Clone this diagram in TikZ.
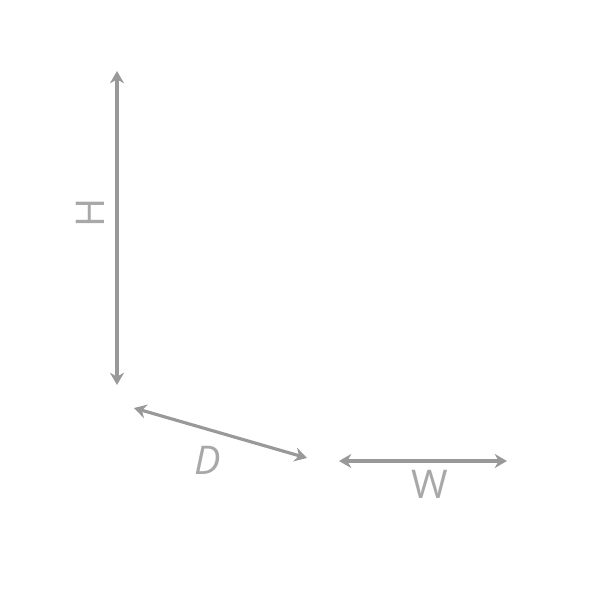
\documentclass[tikz,border=0pt]{standalone}
\usepackage{fontspec}
\setmainfont{Open Sans}
\usetikzlibrary{arrows.meta,calc}
\definecolor{dimgray}{HTML}{999999}
\tikzset{
	dimline/.style={draw=dimgray, line width=1.8pt, {Stealth[length=7pt,width=8pt]}-{Stealth[length=7pt,width=8pt]}},
	dimlabel/.style={text=dimgray!85, font=\fontsize{22.5}{27}\selectfont, inner sep=0pt}
}
\begin{document}
\begin{tikzpicture}[x=0.02cm,y=-0.02cm]
		\useasboundingbox (0,0) rectangle (600,600);
		\coordinate (Htop) at (117,71);
		\coordinate (Hbot) at (117,385);
		\coordinate (Dl) at (134,408);
		\coordinate (Dr) at (307,458);
		\coordinate (Wl) at (339,461);
		\coordinate (Wr) at (507,461);
		\node[dimlabel, rotate=90] (H) at (90,213) {H};
		\node[dimlabel, font=\fontsize{22.5}{27}\selectfont\itshape] (D) at (208,460) {D};
		\node[dimlabel] (W) at (430,484) {W};
		\draw[dimline] (Htop) -- (Hbot);
		\draw[dimline] (Dl) -- (Dr);
		\draw[dimline] (Wl) -- (Wr);
	\end{tikzpicture}
\end{document}
